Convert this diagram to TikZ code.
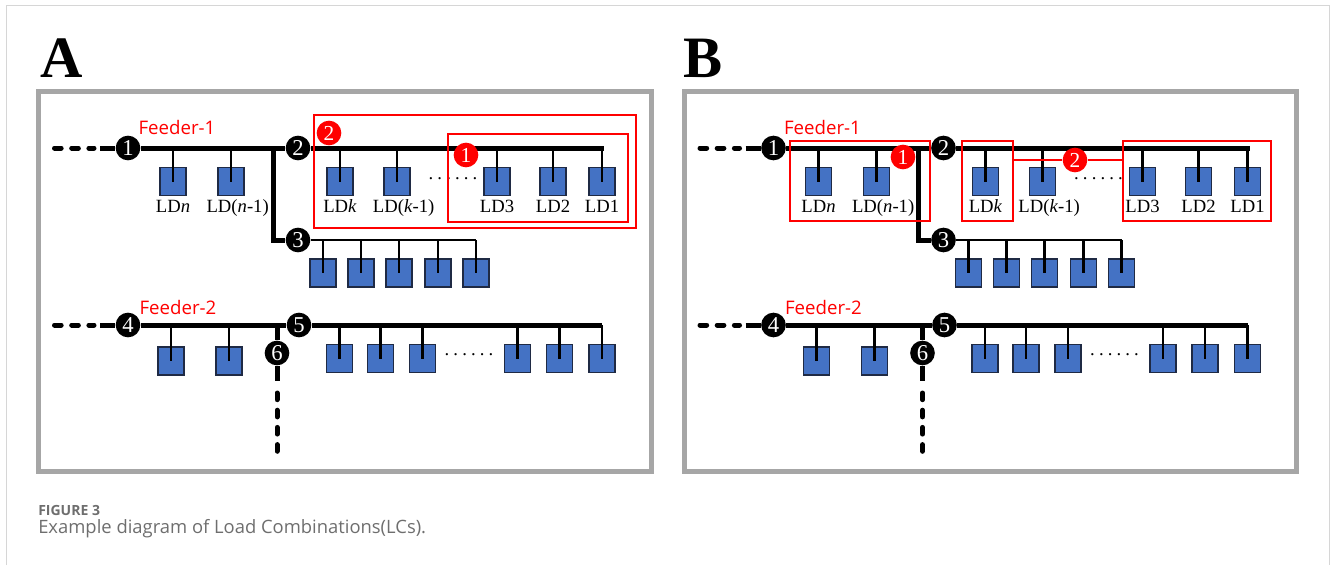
\documentclass[tikz,border=0pt]{standalone}
\usepackage{fontspec}
\setmainfont{Liberation Serif}
\newfontfamily\feederfont{Open Sans}
\usetikzlibrary{positioning,fit}

\definecolor{ldblue}{HTML}{4472C4}
\definecolor{ldedge}{HTML}{1F2A44}
\definecolor{framegray}{HTML}{A6A6A6}
\definecolor{pagegray}{HTML}{D6D6D6}
\definecolor{capgray}{HTML}{6E6E6E}
\definecolor{lcred}{HTML}{FF0000}

\tikzset{
    bus/.style={line width=3.75pt},
    subbus/.style={line width=2.2pt},
    drop/.style={line width=1.8pt},
    lead/.style={line width=3.75pt, line cap=round, dash pattern=on 5pt off 7.9pt},
    busnode/.style={circle, fill=black, inner sep=0pt, minimum size=18.5pt,
        text=white, font=\fontsize{17}{17}\selectfont},
    badge/.style={circle, fill=lcred, inner sep=0pt, minimum size=18.5pt,
        text=white, font=\fontsize{16}{16}\selectfont},
    load/.style={draw=ldedge, fill=ldblue, line width=1pt, inner sep=0pt,
        minimum width=19.5pt, minimum height=21pt},
    ldlabel/.style={font=\fontsize{14}{14}\selectfont, inner sep=0pt,
        text height=9.3pt, text depth=3pt},
    gapdots/.style={anchor=base, inner sep=0pt,
        font=\fontsize{14}{14}\selectfont\addfontfeature{LetterSpace=22}},
    feeder/.style={text=lcred, inner sep=0pt, font=\feederfont\fontsize{14}{14}\selectfont},
    lcbox/.style={draw=lcred, line width=1.5pt, inner sep=0pt},
    lcline/.style={draw=lcred, line width=1.5pt},
    panelframe/.style={draw=framegray, line width=3.75pt},
    panelletter/.style={anchor=base west, inner sep=0pt,
        font=\fontsize{44}{44}\selectfont\bfseries},
}

% one panel: feeders 1 and 2 with their loads
\newcommand{\feederpanel}{%
    \draw[panelframe] (38.5,91) rectangle (651,471);
    % feeder 1
    \node[feeder] (f1) at (177,127) {Feeder-1};
    \node[busnode] (n1) at (128,148) {1};
    \node[busnode] (n2) at (298,148) {2};
    \node[busnode] (n3) at (298,240) {3};
    \coordinate (f1in) at (54.5,148);
    \coordinate (f1lead) at (94,148);
    \coordinate (f1out) at (100,148);
    \coordinate (f1br) at (273,148);
    \coordinate (f1end) at (604,148);
    \coordinate (f3end) at (476,240);
    \draw[lead] (f1in) -- (f1lead);
    \draw[bus] (f1out) -- (n1);
    \draw[bus] (n1) -- (n2);
    \draw[bus] (n2) -- (f1end);
    \draw[bus] (f1br) |- (n3);
    \draw[subbus] (n3) -- (f3end);
    \foreach \nm/\px/\dx/\txt in {ldn/173/0/LD\textit{n}, ldn1/231/5/LD(\textit{n}-1),
        ldk/340/0/LD\textit{k}, ldk1/397/5/LD(\textit{k}-1),
        ld3/497/0/LD3, ld2/553/0/LD2, ld1/602/0/LD1}{
        \node[load] (\nm) at (\px,181.5) {};
        \node[ldlabel, below=3pt of \nm, xshift=\dx pt] (\nm-t) {\txt};
        \draw[drop] (\nm |- n1) -- (\nm.center);
    }
    \node[gapdots] (dots1) at (453,179.5) {......};
    \foreach \nm/\px in {c1/323, c2/361, c3/399, c4/438, c5/476}{
        \node[load] (\nm) at (\px,273) {};
        \draw[drop] (\nm |- n3) -- (\nm.center);
    }
    % feeder 2
    \node[feeder] (f2) at (178,307) {Feeder-2};
    \node[busnode] (n4) at (128,325) {4};
    \node[busnode] (n5) at (299,325) {5};
    \node[busnode] (n6) at (277,353) {6};
    \coordinate (f2in) at (54.5,325);
    \coordinate (f2lead) at (94,325);
    \coordinate (f2out) at (100,325);
    \coordinate (f2br) at (277,325);
    \coordinate (f2end) at (602,325);
    \coordinate (f2down) at (277,381);
    \coordinate (f2tail) at (277,393);
    \coordinate (f2tip) at (277,460);
    \draw[lead] (f2in) -- (f2lead);
    \draw[bus] (f2out) -- (n4);
    \draw[bus] (n4) -- (n5);
    \draw[bus] (n5) -- (f2end);
    \draw[bus] (f2br) -- (n6);
    \draw[bus] (n6) -- (f2down);
    \draw[lead] (f2tail) -- (f2tip);
    \foreach \nm/\px/\py in {d1/171/361, d2/229/361, e1/339.5/358.5, e2/380.5/358.5,
        e3/422.5/358.5, e4/517.5/358.5, e5/559.5/358.5, e6/602/358.5}{
        \node[load] (\nm) at (\px,\py) {};
        \draw[drop] (\nm |- n4) -- (\nm.center);
    }
    \node[gapdots] (dots2) at (469,355.5) {......};
}

\begin{document}
\begin{tikzpicture}[x=0.75pt,y=-0.75pt]
\useasboundingbox (0,0) rectangle (1332,565);
\draw[pagegray, line width=1.2pt] (6.5,565) -- (6.5,5.5) -- (1329.5,5.5) -- (1329.5,565);

\node[panelletter] (lbla) at (40,77) {A};
\node[panelletter] (lblb) at (683,77) {B};

\begin{scope}[name prefix=a-]
    \feederpanel
\end{scope}
\begin{scope}[shift={(645.5,0)}, name prefix=b-]
    \feederpanel
\end{scope}

% panel A: nested combinations
\node[lcbox, fit={(314,115) (636,228)}] (a-g2) {};
\node[lcbox, fit={(448,134) (628,222)}] (a-g1) {};
\node[badge] (a-lc2) at (329,133) {2};
\node[badge] (a-lc1) at (466,155) {1};

% panel B: separate combinations
\node[lcbox, fit={(790,141) (930,221)}] (b-g1) {};
\node[lcbox, fit={(962,141) (1013,221)}] (b-gk) {};
\node[lcbox, fit={(1123,141) (1271,221)}] (b-g3) {};
\node[badge] (b-lc1) at (903,157) {1};
\node[badge] (b-lc2) at (1075,160) {2};
\draw[lcline] (b-gk.east |- b-lc2) -- (b-lc2);
\draw[lcline] (b-lc2) -- (b-g3.west |- b-lc2);

\node[anchor=base west, inner sep=0pt, text=capgray,
    font=\feederfont\bfseries\fontsize{10.5}{10.5}\selectfont] (figno) at (38,515) {FIGURE 3};
\node[anchor=base west, inner sep=0pt, text=capgray,
    font=\feederfont\fontsize{13.8}{13.8}\selectfont] (figcap) at (38,533)
    {Example diagram of Load Combinations(LCs).};
\end{tikzpicture}
\end{document}
